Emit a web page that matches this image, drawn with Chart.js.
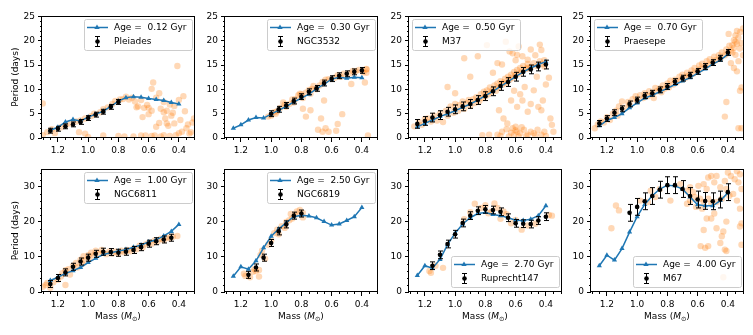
<!DOCTYPE html>
<html>
<head>
<meta charset="utf-8">
<script src="https://cdn.jsdelivr.net/npm/chart.js@4.4.0/dist/chart.umd.min.js"></script>
<style>
  body { margin: 0; background: #fff; width: 753px; height: 335px; overflow: hidden; position: relative; font-family: "DejaVu Sans", sans-serif; }
  canvas { position: absolute; }
  .xlabel { position: absolute; top: 310px; width: 152px; text-align: center; font-size: 9px; line-height: 13px; color: #000; }
  .xlabel sub { font-size: 6.5px; vertical-align: -2px; }
</style>
</head>
<body>
<script>
// model grid (solar masses), shared by every panel
const massGrid = [1.25, 1.20, 1.15, 1.10, 1.05, 1.00, 0.95, 0.90, 0.85, 0.80, 0.75, 0.70, 0.65, 0.60, 0.55, 0.50, 0.45, 0.40];
const xTicks = [1.2, 1.0, 0.8, 0.6, 0.4];
const yTicksTop = [0, 5, 10, 15, 20, 25];
const yTicksBottom = [0, 10, 20, 30];

// model periods (days) on massGrid
const modelPleiades = [1.6, 2.2, 3.3, 3.8, 3.5, 4.3, 4.9, 5.5, 6.5, 7.6, 8.3, 8.5, 8.4, 8.1, 7.9, 7.7, 7.3, 7.0];
const modelNGC3532 = [2.0, 2.7, 3.7, 4.2, 4.1, 4.9, 5.7, 6.5, 7.4, 8.2, 9.0, 10.1, 11.1, 12.1, 12.5, 12.3, 12.5, 12.4];
const modelM37 = [2.3, 3.0, 3.7, 4.4, 5.0, 5.6, 6.3, 7.0, 7.8, 8.7, 9.6, 10.6, 11.6, 12.6, 13.6, 14.4, 15.1, 15.7];
const modelPraesepe = [2.5, 3.6, 4.2, 5.0, 6.2, 7.2, 8.2, 8.8, 9.5, 10.2, 11.0, 11.7, 12.4, 13.3, 14.2, 15.2, 16.0, 17.2];
const modelNGC6811 = [3.3, 4.2, 5.3, 6.1, 7.0, 8.4, 9.6, 10.7, 11.2, 11.7, 12.1, 12.8, 13.4, 14.3, 14.9, 16.0, 17.3, 19.3];
const modelNGC6819 = [4.5, 7.2, 6.5, 8.9, 12.6, 15.9, 18.0, 19.8, 21.5, 21.9, 21.7, 21.2, 20.1, 19.1, 19.4, 20.4, 21.5, 24.1];
const modelRup147 = [4.7, 7.5, 6.8, 9.3, 13.5, 16.8, 19.4, 21.2, 22.4, 22.7, 22.1, 21.8, 21.2, 20.5, 20.4, 20.8, 21.8, 24.6];
const modelM67 = [7.5, 10.5, 9.1, 12.4, 17.1, 21.5, 25.0, 27.5, 29.4, 30.5, 30.3, 29.4, 27.1, 24.9, 24.6, 24.6, 26.1, 28.3];

// binned cluster medians and errors
const binPleiades = [1.25, 1.20, 1.15, 1.10, 1.05, 1.00, 0.95, 0.90, 0.85, 0.80];
const medPleiades = [1.5, 1.9, 2.4, 2.8, 3.3, 4.1, 4.8, 5.4, 6.4, 7.4];
const errPleiades = [0.5, 0.5, 0.5, 0.5, 0.5, 0.5, 0.5, 0.5, 0.5, 0.5];

const binNGC3532 = [1.00, 0.95, 0.90, 0.85, 0.80, 0.75, 0.70, 0.65, 0.60, 0.55, 0.50, 0.45, 0.40];
const medNGC3532 = [5.0, 5.9, 6.7, 7.6, 8.5, 9.5, 10.2, 11.3, 12.2, 12.8, 13.2, 13.6, 13.9];
const errNGC3532 = [0.6, 0.6, 0.6, 0.6, 0.6, 0.6, 0.6, 0.6, 0.6, 0.6, 0.6, 0.6, 0.6];

const binM37 = [1.25, 1.20, 1.15, 1.10, 1.05, 1.00, 0.95, 0.90, 0.85, 0.80, 0.75, 0.70, 0.65, 0.60, 0.55, 0.50, 0.45, 0.40];
const medM37 = [2.9, 3.5, 4.2, 4.7, 5.4, 5.9, 6.5, 7.0, 7.8, 8.6, 9.6, 10.7, 11.5, 12.6, 13.6, 14.1, 14.7, 15.1];
const errM37 = [0.9, 0.9, 0.9, 0.9, 0.9, 0.9, 0.9, 0.9, 0.9, 0.9, 0.9, 0.9, 0.9, 0.9, 0.9, 0.9, 0.9, 0.9];

const binPraesepe = [1.25, 1.20, 1.15, 1.10, 1.05, 1.00, 0.95, 0.90, 0.85, 0.80, 0.75, 0.70, 0.65, 0.60, 0.55, 0.50, 0.45, 0.40];
const medPraesepe = [3.0, 4.0, 5.2, 6.0, 7.0, 7.8, 8.7, 9.2, 9.9, 10.6, 11.6, 12.3, 12.9, 13.7, 14.7, 15.5, 16.4, 17.6];
const errPraesepe = [0.6, 0.6, 0.6, 0.6, 0.6, 0.6, 0.6, 0.6, 0.6, 0.6, 0.6, 0.6, 0.6, 0.6, 0.6, 0.6, 0.6, 0.6];

const binNGC6811 = [1.25, 1.20, 1.15, 1.10, 1.05, 1.00, 0.95, 0.90, 0.85, 0.80, 0.75, 0.70, 0.65, 0.60, 0.55, 0.50, 0.45];
const medNGC6811 = [2.3, 4.0, 5.6, 7.2, 8.7, 9.8, 10.9, 11.5, 11.4, 11.2, 11.5, 12.0, 12.8, 13.8, 14.5, 15.0, 15.5];
const errNGC6811 = [1.0, 1.0, 1.0, 1.0, 1.0, 1.0, 1.0, 1.0, 1.0, 1.0, 1.0, 1.0, 1.0, 1.0, 1.0, 1.0, 1.0];

const binNGC6819 = [1.15, 1.10, 1.05, 1.00, 0.95, 0.90, 0.85, 0.80];
const medNGC6819 = [4.9, 7.0, 9.8, 14.0, 17.3, 19.3, 21.8, 22.4];
const errNGC6819 = [1.0, 1.0, 1.0, 1.0, 1.0, 1.0, 1.0, 1.0];

const binRup147 = [1.15, 1.10, 1.05, 1.00, 0.95, 0.90, 0.85, 0.80, 0.75, 0.70, 0.65, 0.60, 0.55, 0.50, 0.45, 0.40];
const medRup147 = [7.5, 10.6, 13.7, 16.5, 19.7, 21.8, 23.2, 23.6, 23.4, 22.9, 21.2, 19.6, 19.5, 19.4, 20.4, 21.5];
const errRup147 = [1.1, 1.1, 1.1, 1.1, 1.1, 1.1, 1.1, 1.1, 1.1, 1.1, 1.1, 1.1, 1.1, 1.1, 1.1, 1.1];

const binM67 = [1.05, 1.00, 0.95, 0.90, 0.85, 0.80, 0.75, 0.70, 0.65, 0.60, 0.55, 0.50, 0.45, 0.40];
const medM67 = [22.6, 24.3, 25.9, 27.4, 29.2, 30.5, 30.5, 29.4, 27.4, 26.4, 26.0, 25.9, 26.4, 28.5];
const errM67 = [2.4, 2.4, 2.4, 2.4, 2.4, 2.4, 2.4, 2.4, 2.4, 2.4, 2.4, 2.4, 2.4, 2.4];

// individual stars [mass, period]
const starsPleiades = [[1.30,7.1],[1.27,1.2],[1.24,1.8],[1.22,1.0],[1.18,2.2],[1.15,2.6],[1.12,3.0],[1.08,3.4],[1.05,3.6],[1.02,4.0],[0.98,4.5],[0.96,5.0],[0.92,5.3],[0.90,5.9],[0.87,6.3],[0.84,7.0],[0.82,7.6],[0.79,7.9],[0.77,8.0],[0.75,8.5],[0.73,7.9],[0.71,8.3],[0.69,7.5],[0.67,6.5],[0.65,7.8],[0.63,6.2],[0.61,6.8],[0.60,4.9],[0.58,5.6],[0.57,11.4],[0.58,10.1],[0.55,8.3],[0.53,9.2],[0.52,6.0],[0.50,5.3],[0.49,4.0],[0.48,3.0],[0.47,2.5],[0.45,4.6],[0.44,5.2],[0.43,3.0],[0.41,14.8],[0.40,7.8],[0.39,3.7],[0.37,8.6],[0.36,5.5],[0.34,2.8],[0.32,1.2],[0.31,3.2],[0.30,4.0],[0.33,0.9],[0.40,1.0],[0.42,0.6],[0.46,0.4],[0.50,0.6],[0.52,0.3],[0.56,0.5],[0.58,0.4],[0.62,0.5],[0.65,0.5],[0.70,0.3],[0.76,0.3],[0.80,0.4],[0.90,0.5],[1.00,0.2],[1.02,0.9],[1.06,1.2],[1.30,0.6],[0.55,2.3],[0.53,3.1],[0.60,6.2],[0.64,4.3],[0.68,6.3],[0.46,6.9],[0.43,6.6],[0.48,5.6],[0.50,7.4],[0.35,2.0],[0.38,1.3]];
const starsNGC3532 = [[1.02,4.4],[1.00,4.6],[0.98,5.3],[0.97,5.0],[0.96,5.5],[0.94,6.2],[0.92,7.3],[0.91,6.9],[0.90,6.4],[0.88,7.0],[0.86,7.9],[0.85,7.3],[0.84,8.0],[0.82,8.8],[0.81,9.1],[0.80,9.0],[0.79,8.2],[0.77,9.3],[0.75,9.9],[0.74,9.1],[0.73,10.1],[0.72,10.7],[0.70,10.0],[0.68,10.8],[0.66,11.5],[0.64,12.0],[0.62,12.1],[0.58,12.4],[0.56,12.9],[0.54,12.6],[0.52,13.2],[0.48,13.3],[0.46,13.8],[0.44,13.7],[0.42,14.0],[0.39,13.5],[0.37,14.2],[0.79,6.0],[0.77,4.4],[0.74,5.7],[0.69,1.7],[0.67,4.0],[0.65,7.7],[0.64,2.0],[0.66,1.3],[0.62,1.3],[0.56,2.9],[0.53,4.9],[0.57,1.5],[0.47,11.1],[0.38,11.4],[0.37,13.4],[0.37,14.1],[0.36,0.5]];
const starsM37 = [[1.27,2.4],[1.24,3.3],[1.22,2.7],[1.20,3.9],[1.18,4.0],[1.16,3.4],[1.14,4.6],[1.12,3.6],[1.10,5.0],[1.08,3.3],[1.06,5.6],[1.05,4.6],[1.03,6.5],[1.01,5.2],[1.00,7.0],[0.98,5.6],[0.97,6.8],[0.95,7.5],[0.94,6.0],[0.92,7.2],[0.91,7.8],[0.90,6.6],[0.88,8.0],[0.87,7.2],[0.86,8.4],[0.84,7.6],[0.83,9.0],[0.82,8.2],[0.81,9.5],[0.80,8.6],[0.79,9.8],[0.78,9.0],[0.77,10.4],[0.76,9.4],[0.75,10.0],[0.74,10.8],[0.73,9.7],[0.72,11.2],[0.71,10.4],[0.70,11.7],[0.69,10.9],[0.68,11.4],[0.67,12.2],[0.66,11.2],[0.65,12.6],[0.64,12.0],[0.63,13.0],[0.62,12.4],[0.61,13.6],[0.60,12.9],[0.59,14.0],[0.58,13.2],[0.57,14.4],[0.56,13.6],[0.55,14.8],[0.53,14.2],[0.52,15.2],[0.50,14.6],[0.48,15.4],[0.46,14.8],[0.44,15.8],[0.42,15.2],[0.41,16.0],[0.79,19.1],[0.665,19.8],[0.64,17.8],[0.62,17.4],[0.59,17.1],[0.555,16.8],[0.52,16.1],[0.44,19.2],[0.43,18.1],[0.41,14.7],[0.38,12.4],[0.52,14.4],[0.72,15.4],[0.69,15.1],[0.85,16.8],[0.94,16.4],[1.05,10.5],[0.58,18.8],[0.60,16.0],[0.47,17.0],[0.50,18.2],[0.90,12.6],[1.00,9.2],[0.75,13.4],[0.61,9.7],[0.63,7.7],[0.59,6.4],[0.555,7.7],[0.52,5.4],[0.50,7.0],[0.45,6.4],[0.43,5.7],[0.42,7.7],[0.37,4.0],[0.36,2.7],[0.35,1.3],[0.71,5.7],[0.68,4.0],[0.655,3.0],[0.57,9.0],[0.54,10.5],[0.48,9.8],[0.40,11.0],[0.46,12.6],[0.69,1.3],[0.72,0.7],[0.775,0.7],[0.62,2.0],[0.60,2.3],[0.59,1.3],[0.57,1.0],[0.545,1.7],[0.52,0.7],[0.50,1.3],[0.48,1.0],[0.455,1.7],[0.43,0.7],[0.41,1.3],[0.58,0.3],[0.61,0.7],[0.645,0.3],[0.60,1.6],[0.56,2.2],[0.53,0.4],[0.47,0.5],[0.40,0.4],[0.66,1.8],[0.70,0.4],[0.82,0.6],[0.63,1.1]];
const starsPraesepe = [[1.28,2.0],[1.26,2.8],[1.24,3.4],[1.22,3.2],[1.20,4.3],[1.18,3.7],[1.16,5.0],[1.14,5.6],[1.13,4.6],[1.12,6.5],[1.10,7.5],[1.08,6.2],[1.06,7.4],[1.05,6.9],[1.03,8.0],[1.01,8.6],[1.00,7.6],[0.98,8.8],[0.96,8.2],[0.95,9.2],[0.93,8.6],[0.92,9.6],[0.90,9.0],[0.89,8.2],[0.88,10.3],[0.87,9.6],[0.85,10.2],[0.84,9.4],[0.83,10.8],[0.82,10.1],[0.80,11.2],[0.79,10.4],[0.78,11.8],[0.76,11.0],[0.75,12.0],[0.74,11.4],[0.72,12.6],[0.71,11.9],[0.70,13.0],[0.68,12.4],[0.67,13.4],[0.66,12.8],[0.64,13.9],[0.63,13.2],[0.62,14.4],[0.60,13.8],[0.59,14.9],[0.58,14.2],[0.57,15.3],[0.55,14.7],[0.54,15.8],[0.53,15.0],[0.52,16.2],[0.50,15.6],[0.49,16.7],[0.48,16.0],[0.46,17.0],[0.45,16.3],[0.44,17.6],[0.42,17.0],[0.41,18.2],[0.40,17.4],[0.318,21.8],[0.35,21.1],[0.36,20.1],[0.34,19.4],[0.37,19.1],[0.32,18.4],[0.35,17.1],[0.33,15.8],[0.38,15.4],[0.36,14.4],[0.34,13.7],[0.31,10.4],[0.32,9.7],[0.41,7.4],[0.42,4.4],[0.33,2.0],[0.31,2.0],[0.395,21.4],[0.30,22.5],[0.36,18.5],[0.38,18.0],[0.33,20.6],[0.35,19.8],[0.37,17.6],[0.39,19.0],[0.34,22.0],[0.31,19.5],[0.30,17.0]];
const starsNGC6811 = [[1.30,1.5],[1.28,2.0],[1.27,2.6],[1.25,1.2],[1.23,2.8],[1.20,3.5],[1.18,4.4],[1.17,5.4],[1.15,2.0],[1.15,6.2],[1.13,6.5],[1.12,5.0],[1.10,7.5],[1.08,8.3],[1.07,7.0],[1.05,9.2],[1.04,8.0],[1.03,10.2],[1.02,9.0],[1.00,10.5],[0.99,9.5],[0.98,11.2],[0.96,10.6],[0.95,11.8],[0.93,11.0],[0.91,12.0],[0.90,11.2],[0.88,10.8],[0.86,11.6],[0.84,11.0],[0.82,11.5],[0.80,10.9],[0.78,11.8],[0.76,11.3],[0.74,12.0],[0.72,11.6],[0.70,12.4],[0.68,12.2],[0.66,13.2],[0.64,12.7],[0.62,13.6],[0.60,14.0],[0.58,13.8],[0.56,14.7],[0.54,14.4],[0.52,15.2],[0.50,14.8],[0.48,15.6],[0.46,15.3],[0.44,15.8],[0.41,16.0]];
const starsNGC6819 = [[1.18,5.2],[1.17,4.6],[1.14,4.2],[1.12,5.8],[1.11,6.6],[1.10,6.0],[1.08,6.3],[1.08,4.4],[1.06,11.8],[1.07,10.6],[1.04,9.5],[1.02,13.5],[1.00,14.8],[0.98,16.8],[0.96,17.8],[0.95,16.5],[0.93,18.8],[0.91,18.3],[0.90,20.0],[0.88,20.5],[0.87,22.3],[0.86,21.0],[0.84,22.0],[0.83,23.0],[0.81,23.4],[0.79,22.6],[0.79,21.3]];
const starsRup147 = [[1.17,6.0],[1.16,5.5],[1.13,7.5],[1.08,6.9],[0.87,25.2],[0.83,24.0],[0.78,22.5],[0.74,25.3],[0.72,24.0],[0.70,20.9],[0.68,23.0],[0.63,19.6],[0.60,20.6],[0.56,17.8],[0.52,19.0],[0.47,19.5],[0.38,22.0],[0.36,21.8],[0.90,22.8],[0.94,20.8],[0.66,22.2],[0.76,22.9],[0.80,24.8]];
const starsM67 = [[1.14,24.7],[1.12,23.3],[1.17,18.2],[0.63,28.5],[0.595,30.3],[0.56,30.8],[0.54,29.4],[0.51,33.1],[0.49,31.3],[0.45,29.9],[0.42,31.7],[0.40,34.1],[0.38,33.1],[0.355,32.2],[0.33,31.3],[0.32,33.6],[0.34,34.5],[0.31,29.4],[0.365,28.0],[0.34,26.1],[0.32,23.8],[0.31,19.6],[0.32,18.7],[0.31,13.5],[0.41,20.1],[0.43,17.3],[0.44,15.9],[0.475,18.2],[0.51,21.0],[0.49,22.4],[0.54,21.0],[0.56,17.7],[0.58,13.1],[0.53,13.1],[0.55,12.6],[0.45,14.0],[0.41,11.7],[0.42,12.1],[0.43,4.2],[0.67,25.2],[0.65,26.1],[0.62,27.1],[0.585,26.6],[0.56,25.7],[0.53,26.6],[0.51,25.2],[0.475,25.7],[0.44,26.6],[0.39,27.5],[0.41,29.4],[0.61,24.3],[0.57,23.8],[0.67,28.9],[0.715,30.8],[0.85,29.4],[0.88,27.1],[0.91,28.9],[0.93,25.7],[0.98,26.1],[0.78,26.1],[0.65,29.9],[0.53,32.7],[0.475,33.1]];

const FONT = '"DejaVu Sans", sans-serif';
const COLS = [42, 225, 409, 591];
const ROWS = [14, 167];
const PW = 152;
const PH = [124, 125];
const AXW = 42, PADT = 6, PADR = 4, AXH = 30;

const panels = [
  { name: 'Pleiades', age: '0.12', model: modelPleiades, bins: binPleiades, med: medPleiades, err: errPleiades, stars: starsPleiades, row: 0, col: 0, pos: 'ur' },
  { name: 'NGC3532', age: '0.30', model: modelNGC3532, bins: binNGC3532, med: medNGC3532, err: errNGC3532, stars: starsNGC3532, row: 0, col: 1, pos: 'ur' },
  { name: 'M37', age: '0.50', model: modelM37, bins: binM37, med: medM37, err: errM37, stars: starsM37, row: 0, col: 2, pos: 'ul' },
  { name: 'Praesepe', age: '0.70', model: modelPraesepe, bins: binPraesepe, med: medPraesepe, err: errPraesepe, stars: starsPraesepe, row: 0, col: 3, pos: 'ul' },
  { name: 'NGC6811', age: '1.00', model: modelNGC6811, bins: binNGC6811, med: medNGC6811, err: errNGC6811, stars: starsNGC6811, row: 1, col: 0, pos: 'ur' },
  { name: 'NGC6819', age: '2.50', model: modelNGC6819, bins: binNGC6819, med: medNGC6819, err: errNGC6819, stars: starsNGC6819, row: 1, col: 1, pos: 'ur' },
  { name: 'Ruprecht147', age: '2.70', model: modelRup147, bins: binRup147, med: medRup147, err: errRup147, stars: starsRup147, row: 1, col: 2, pos: 'lr' },
  { name: 'M67', age: '4.00', model: modelM67, bins: binM67, med: medM67, err: errM67, stars: starsM67, row: 1, col: 3, pos: 'lr' }
];

// error bars, frame, minor ticks and legend box
const panelDecor = {
  id: 'panelDecor',
  afterDatasetsDraw(chart, args, opts) {
    const ctx = chart.ctx, ca = chart.chartArea;
    const xs = chart.scales.x, ys = chart.scales.y;

    ctx.save();
    ctx.strokeStyle = '#000';
    ctx.lineWidth = 1;
    chart.data.datasets.forEach(ds => {
      if (!ds.errors) return;
      ds.data.forEach((pt, i) => {
        const px = Math.round(xs.getPixelForValue(pt.x)) + 0.5;
        const y1 = ys.getPixelForValue(pt.y + ds.errors[i]);
        const y0 = ys.getPixelForValue(pt.y - ds.errors[i]);
        ctx.beginPath();
        ctx.moveTo(px, y0); ctx.lineTo(px, y1);
        ctx.moveTo(px - 2.5, y0); ctx.lineTo(px + 2.5, y0);
        ctx.moveTo(px - 2.5, y1); ctx.lineTo(px + 2.5, y1);
        ctx.stroke();
      });
    });

    // frame
    ctx.strokeRect(Math.round(ca.left) - 0.5, Math.round(ca.top) + 0.5, Math.round(ca.width) + 1, Math.round(ca.height) - 1);

    // minor ticks
    ctx.beginPath();
    for (let k = 6; k <= 26; k++) {
      if (k % 4 === 0) continue;
      const px = Math.round(xs.getPixelForValue(k * 0.05)) + 0.5;
      ctx.moveTo(px, ca.bottom); ctx.lineTo(px, ca.bottom + 2);
    }
    for (let v = 0; v <= opts.yMax; v += opts.yMinor) {
      if (v % opts.yMajor === 0) continue;
      const py = Math.round(ys.getPixelForValue(v)) + 0.5;
      ctx.moveTo(ca.left, py); ctx.lineTo(ca.left - 2, py);
    }
    ctx.stroke();
    ctx.restore();

    drawLegend(ctx, ca, opts);
  }
};

function drawLegend(ctx, ca, o) {
  ctx.save();
  ctx.font = '9px ' + FONT;
  const t1 = 'Age =  ' + o.age + ' Gyr';
  const t2 = o.name;
  const tw = Math.max(ctx.measureText(t1).width, ctx.measureText(t2).width);
  const w = Math.round(30 + tw + 6), h = 31;
  const x = Math.round(o.pos === 'ul' ? ca.left + 3 : ca.right - 2 - w);
  const y = Math.round(o.pos === 'lr' ? ca.bottom - 5 - h : ca.top + 3);

  ctx.beginPath();
  if (ctx.roundRect) ctx.roundRect(x + 0.5, y + 0.5, w, h, 2);
  else ctx.rect(x + 0.5, y + 0.5, w, h);
  ctx.fillStyle = 'rgba(255,255,255,0.8)';
  ctx.fill();
  ctx.strokeStyle = '#cccccc';
  ctx.lineWidth = 1;
  ctx.stroke();

  const r1 = y + 8.5, r2 = y + 22.5, hx = x + 13;
  // model handle
  ctx.strokeStyle = '#1f77b4';
  ctx.lineWidth = 1.5;
  ctx.beginPath();
  ctx.moveTo(x + 3, r1); ctx.lineTo(x + 24, r1);
  ctx.stroke();
  ctx.fillStyle = '#1f77b4';
  ctx.beginPath();
  ctx.moveTo(hx, r1 - 3); ctx.lineTo(hx + 2.7, r1 + 1.6); ctx.lineTo(hx - 2.7, r1 + 1.6);
  ctx.closePath();
  ctx.fill();
  // errorbar handle
  ctx.strokeStyle = '#000';
  ctx.lineWidth = 1;
  ctx.beginPath();
  ctx.moveTo(hx + 0.5, r2 - 5); ctx.lineTo(hx + 0.5, r2 + 5);
  ctx.moveTo(hx - 2, r2 - 5); ctx.lineTo(hx + 3, r2 - 5);
  ctx.moveTo(hx - 2, r2 + 5); ctx.lineTo(hx + 3, r2 + 5);
  ctx.stroke();
  ctx.fillStyle = '#000';
  ctx.beginPath();
  ctx.arc(hx + 0.5, r2, 2.3, 0, Math.PI * 2);
  ctx.fill();

  ctx.fillStyle = '#000';
  ctx.textBaseline = 'middle';
  ctx.fillText(t1, x + 30, r1);
  ctx.fillText(t2, x + 30, r2);
  ctx.restore();
}

function makePanel(p) {
  const L = COLS[p.col], T = ROWS[p.row], H = PH[p.row];
  const w = AXW + PW + PADR, h = PADT + H + AXH;
  const cv = document.createElement('canvas');
  cv.width = w; cv.height = h;
  cv.style.left = (L - AXW) + 'px';
  cv.style.top = (T - PADT) + 'px';
  cv.style.width = w + 'px';
  cv.style.height = h + 'px';
  document.body.appendChild(cv);

  const yTicks = p.row === 0 ? yTicksTop : yTicksBottom;
  const yMax = p.row === 0 ? 25 : 35;

  new Chart(cv.getContext('2d'), {
    type: 'scatter',
    data: {
      datasets: [
        {
          label: p.name,
          data: p.bins.map((m, i) => ({ x: m, y: p.med[i] })),
          errors: p.err,
          backgroundColor: '#000', borderColor: '#000', borderWidth: 0,
          pointRadius: 2.3, pointHoverRadius: 2.3, clip: 0
        },
        {
          label: 'Age = ' + p.age + ' Gyr',
          data: massGrid.map((m, i) => ({ x: m, y: p.model[i] })),
          showLine: true, tension: 0,
          borderColor: '#1f77b4', backgroundColor: '#1f77b4', borderWidth: 1.5,
          pointStyle: 'triangle', pointRadius: 3, pointBorderWidth: 0, pointHoverRadius: 3, clip: 0
        },
        {
          label: 'stars',
          data: p.stars.map(s => ({ x: s[0], y: s[1] })),
          backgroundColor: 'rgba(255,127,14,0.3)', borderColor: 'rgba(255,127,14,0.3)', borderWidth: 0,
          pointRadius: 3.2, pointHoverRadius: 3.2, clip: 0
        }
      ]
    },
    options: {
      responsive: false,
      animation: false,
      devicePixelRatio: 1,
      events: [],
      layout: { padding: { top: PADT, right: PADR, left: 0, bottom: 0 } },
      plugins: {
        legend: { display: false },
        tooltip: { enabled: false },
        panelDecor: { name: p.name, age: p.age, pos: p.pos, yMax: yMax, yMajor: p.row === 0 ? 5 : 10, yMinor: p.row === 0 ? 1 : 2 }
      },
      scales: {
        x: {
          type: 'linear', reverse: true, min: 0.30, max: 1.305,
          afterBuildTicks: s => { s.ticks = xTicks.map(v => ({ value: v })); },
          afterFit: s => { s.height = AXH; },
          ticks: { callback: v => v.toFixed(1), font: { family: FONT, size: 9 }, color: '#000', padding: 3, maxRotation: 0, autoSkip: false },
          grid: { drawOnChartArea: false, tickLength: 4, color: '#000' },
          border: { display: false }
        },
        y: {
          type: 'linear', min: 0, max: yMax,
          afterBuildTicks: s => { s.ticks = yTicks.map(v => ({ value: v })); },
          afterFit: s => { s.width = AXW; },
          ticks: { font: { family: FONT, size: 9 }, color: '#000', padding: 3 },
          grid: { drawOnChartArea: false, tickLength: 4, color: '#000' },
          border: { display: false },
          title: { display: p.col === 0, text: 'Period (days)', color: '#000', font: { family: FONT, size: 9 }, padding: { top: 10, bottom: 0 } }
        }
      }
    },
    plugins: [panelDecor]
  });

  if (p.row === 1) {
    const lab = document.createElement('div');
    lab.className = 'xlabel';
    lab.style.left = L + 'px';
    lab.innerHTML = 'Mass (<i>M</i><sub>⊙</sub>)';
    document.body.appendChild(lab);
  }
}

panels.forEach(makePanel);
</script>
</body>
</html>
